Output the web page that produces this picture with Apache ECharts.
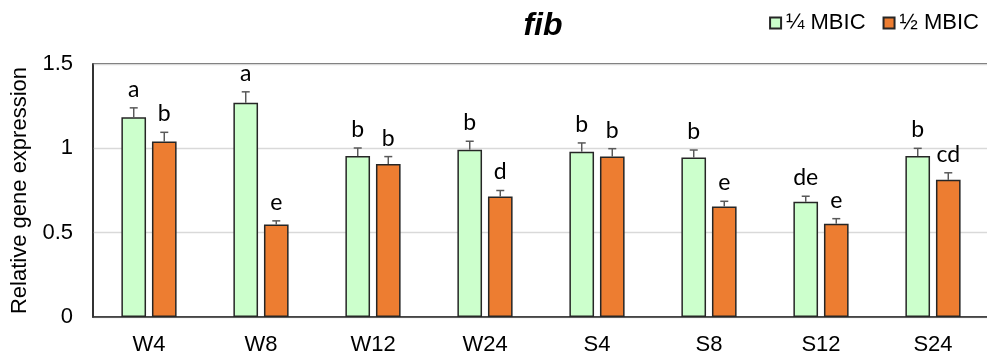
<!DOCTYPE html>
<html>
<head>
<meta charset="utf-8">
<script src="https://cdn.jsdelivr.net/npm/echarts@6/dist/echarts.min.js"></script>
<style>
  html, body { margin: 0; padding: 0; background: #fff; }
  #chart { width: 987px; height: 353px; }
</style>
</head>
<body>
<div id="chart"></div>
<script>
// fib relative expression, ¼ and ½ MBIC treatments
const categories = ['W4', 'W8', 'W12', 'W24', 'S4', 'S8', 'S12', 'S24'];
const quarterMean = [1.185, 1.27, 0.954, 0.992, 0.98, 0.945, 0.683, 0.954];
const quarterErr = [0.055, 0.065, 0.048, 0.05, 0.052, 0.045, 0.033, 0.046];
const quarterLetters = ['a', 'a', 'b', 'b', 'b', 'b', 'de', 'b'];
const halfMean = [1.04, 0.548, 0.907, 0.714, 0.951, 0.655, 0.553, 0.813];
const halfErr = [0.055, 0.022, 0.044, 0.036, 0.047, 0.031, 0.03, 0.042];
const halfLetters = ['b', 'e', 'b', 'd', 'b', 'e', 'e', 'cd'];
const yTicks = [0, 0.5, 1, 1.5];

const BAR_W = 0.22;   // share of band width per bar
const BAR_GAP = 0.24; // gap between paired bars, share of bar width

function errorSeries(name, means, errs, letters, side) {
  return {
    type: 'custom',
    name: name + ' err',
    z: 5,
    silent: true,
    data: means.map((m, i) => [i, m, m + errs[i], letters[i]]),
    renderItem: function (params, api) {
      const i = api.value(0);
      const band = api.size([1, 0])[0];
      const bw = band * BAR_W;
      const off = side * (bw + bw * BAR_GAP) / 2;
      const base = api.coord([i, api.value(1)]);
      const top = api.coord([i, api.value(2)]);
      const x = base[0] + off;
      const cap = 4;
      const stroke = { stroke: '#595959', lineWidth: 1.5 };
      return {
        type: 'group',
        children: [
          { type: 'line', shape: { x1: x, y1: base[1], x2: x, y2: top[1] }, style: stroke },
          { type: 'line', shape: { x1: x - cap, y1: top[1], x2: x + cap, y2: top[1] }, style: stroke },
          {
            type: 'text',
            style: {
              x: x, y: top[1] - 7,
              text: letters[i],
              fill: '#000',
              font: '23px Lato, "Open Sans", sans-serif',
              align: 'center',
              verticalAlign: 'bottom'
            }
          }
        ]
      };
    }
  };
}

const chart = echarts.init(document.getElementById('chart'), null, { renderer: 'canvas' });
chart.setOption({
  animation: false,
  textStyle: { fontFamily: '"Liberation Sans", Arial, sans-serif' },
  grid: {
    left: 93, right: -2, top: 64, bottom: 36,
    outerBoundsMode: 'none',
    containLabel: false,
    show: true, borderColor: '#333', borderWidth: 1.5, backgroundColor: 'transparent'
  },
  graphic: [{
    type: 'text',
    x: 543, y: 26,
    style: {
      text: 'fib',
      font: 'italic bold 32px "Liberation Sans", Arial, sans-serif',
      fill: '#000',
      align: 'center',
      verticalAlign: 'middle'
    }
  }],
  legend: {
    right: 3, top: 7,
    icon: 'rect',
    itemWidth: 11, itemHeight: 11,
    itemGap: 17,
    data: ['¼ MBIC', '½ MBIC'],
    textStyle: { fontSize: 22, color: '#000', fontFamily: '"Liberation Sans", Arial, sans-serif' }
  },
  xAxis: {
    type: 'category',
    data: categories,
    axisTick: { show: false },
    axisLine: { lineStyle: { color: '#333', width: 1.5 } },
    axisLabel: { color: '#000', fontSize: 22, margin: 17 }
  },
  yAxis: {
    type: 'value',
    min: yTicks[0], max: yTicks[yTicks.length - 1], interval: 0.5,
    name: 'Relative gene expression',
    nameLocation: 'middle',
    nameGap: 62,
    nameTextStyle: { fontSize: 22, color: '#000' },
    axisLine: { show: true, lineStyle: { color: '#222', width: 1.5 } },
    axisTick: { show: false },
    axisLabel: { color: '#000', fontSize: 22, margin: 20 },
    splitLine: { lineStyle: { color: '#d9d9d9', width: 1.3 } }
  },
  series: [
    {
      name: '¼ MBIC', type: 'bar', data: quarterMean,
      barWidth: (BAR_W * 100) + '%', barGap: (BAR_GAP * 100) + '%',
      itemStyle: { color: '#ccffcc', borderColor: '#262626', borderWidth: 1.5 }
    },
    {
      name: '½ MBIC', type: 'bar', data: halfMean,
      barWidth: (BAR_W * 100) + '%', barGap: (BAR_GAP * 100) + '%',
      itemStyle: { color: '#ed7d31', borderColor: '#262626', borderWidth: 1.5 }
    },
    errorSeries('¼ MBIC', quarterMean, quarterErr, quarterLetters, -1),
    errorSeries('½ MBIC', halfMean, halfErr, halfLetters, 1)
  ]
});
</script>
</body>
</html>
